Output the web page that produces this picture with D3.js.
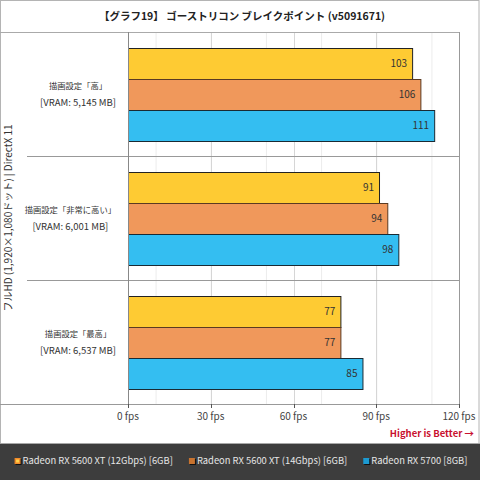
<!DOCTYPE html>
<meta charset="utf-8">
<style>
  body { margin: 0; background: #fff; }
  svg { display: block; font-family: "Noto Sans CJK JP", "Noto Sans", sans-serif; }
  .cat-name { font-size: 8.3px; fill: #333; }
  .cat-vram { font-size: 9.5px; fill: #333; }
  .tick-label { font-size: 10px; fill: #444; }
  .val { font-size: 10px; fill: #333; }
  .legend-text { font-size: 9.4px; fill: #e6e6e6; }
</style>
<body>
<div id="chart"></div>
<script src="https://d3js.org/d3.v7.min.js"></script>
<script>
  // data
  const categories = ["high", "veryHigh", "highest"];
  const categoryNames = ["描画設定「高」", "描画設定「非常に高い」", "描画設定「最高」"];
  const vramLabels = ["[VRAM: 5,145 MB]", "[VRAM: 6,001 MB]", "[VRAM: 6,537 MB]"];
  const seriesNames = [
    "Radeon RX 5600 XT (12Gbps) [6GB]",
    "Radeon RX 5600 XT (14Gbps) [6GB]",
    "Radeon RX 5700 [8GB]"
  ];
  const rx5600xt12 = [103, 91, 77];
  const rx5600xt14 = [106, 94, 77];
  const rx5700 = [111, 98, 85];
  const tickValues = [0, 30, 60, 90, 120];
  const tickLabels = ["0 fps", "30 fps", "60 fps", "90 fps", "120 fps"];

  const width = 480, height = 480;
  const plotLeft = 128, plotRight = 459, plotTop = 32, plotBottom = 404;

  const barFill = ["#fecb33", "#f0985b", "#34bef1"];
  const barStroke = ["#222", "#5a3a22", "#1a2a33"];
  const legendFill = ["#f08a2a", "#c8732f", "#1c9ad2"];

  const seriesValues = [rx5600xt12, rx5600xt14, rx5700];
  const rows = [];
  categories.forEach((c, i) => {
    seriesNames.forEach((s, j) => {
      rows.push({ cat: c, si: j, value: seriesValues[j][i] });
    });
  });

  const svg = d3.select("#chart").append("svg")
    .attr("width", width)
    .attr("height", height);

  const x = d3.scaleLinear().domain([0, 120]).range([plotLeft, plotRight]);
  const y = d3.scaleBand().domain(categories).range([plotTop, plotBottom]);
  const ySub = d3.scaleBand().domain(d3.range(seriesNames.length))
    .range([0, y.bandwidth()]).paddingOuter(0.5).paddingInner(0);

  // outer frame
  svg.append("rect")
    .attr("x", 0.5).attr("y", 0.5)
    .attr("width", width - 1.5).attr("height", 443)
    .attr("fill", "#fff").attr("stroke", "#b4b4b4");

  // title
  svg.append("text")
    .attr("x", 242).attr("y", 20)
    .attr("text-anchor", "middle")
    .style("font-size", "10.5px").style("font-weight", "bold").style("fill", "#222")
    .text("【グラフ19】 ゴーストリコン ブレイクポイント (v5091671)");

  // minor and major gridlines
  svg.append("g").selectAll("line")
    .data(d3.range(10, 120, 20))
    .join("line")
    .attr("x1", d => x(d) + 0.5).attr("x2", d => x(d) + 0.5)
    .attr("y1", plotTop).attr("y2", plotBottom)
    .attr("stroke", "#ececec");

  svg.append("g").selectAll("line")
    .data(tickValues.slice(1, -1))
    .join("line")
    .attr("x1", d => Math.round(x(d)) + 0.5).attr("x2", d => Math.round(x(d)) + 0.5)
    .attr("y1", plotTop).attr("y2", plotBottom)
    .attr("stroke", "#d6d6d6");

  // frame lines of plot
  svg.append("line")
    .attr("x1", 0).attr("x2", plotRight + 0.5)
    .attr("y1", plotTop + 0.5).attr("y2", plotTop + 0.5)
    .attr("stroke", "#aaa");
  svg.append("line")
    .attr("x1", plotRight + 0.5).attr("x2", plotRight + 0.5)
    .attr("y1", plotTop).attr("y2", plotBottom)
    .attr("stroke", "#999");

  // group separators
  svg.append("g").selectAll("line")
    .data(categories.slice(1))
    .join("line")
    .attr("x1", 27).attr("x2", plotRight)
    .attr("y1", d => Math.round(y(d)) + 0.5).attr("y2", d => Math.round(y(d)) + 0.5)
    .attr("stroke", "#999");

  // bars
  svg.append("g").selectAll("rect")
    .data(rows)
    .join("rect")
    .attr("x", x(0) + 0.5)
    .attr("y", d => Math.round(y(d.cat) + ySub(d.si)) + 0.5)
    .attr("width", d => x(d.value) - x(0))
    .attr("height", ySub.bandwidth())
    .attr("fill", d => barFill[d.si])
    .attr("stroke", d => barStroke[d.si])
    .attr("stroke-width", 1);

  // value labels
  svg.append("g").selectAll("text")
    .data(rows)
    .join("text")
    .attr("class", "val")
    .attr("x", d => x(d.value) - 5)
    .attr("y", d => y(d.cat) + ySub(d.si) + ySub.bandwidth() / 2)
    .attr("dy", "0.35em")
    .attr("text-anchor", "end")
    .text(d => d.value);

  // y axis line (0 fps)
  svg.append("line")
    .attr("x1", x(0) + 0.5).attr("x2", x(0) + 0.5)
    .attr("y1", plotTop).attr("y2", plotBottom + 3)
    .attr("stroke", "#888");

  // bottom axis
  svg.append("line")
    .attr("x1", 0).attr("x2", plotRight + 0.5)
    .attr("y1", plotBottom + 0.5).attr("y2", plotBottom + 0.5)
    .attr("stroke", "#999");

  svg.append("g").selectAll("line")
    .data(tickValues)
    .join("line")
    .attr("x1", d => Math.round(x(d)) + 0.5).attr("x2", d => Math.round(x(d)) + 0.5)
    .attr("y1", plotBottom).attr("y2", plotBottom + 4)
    .attr("stroke", "#555");

  svg.append("g").selectAll("text")
    .data(tickValues)
    .join("text")
    .attr("class", "tick-label")
    .attr("x", d => x(d))
    .attr("y", plotBottom + 16)
    .attr("text-anchor", "middle")
    .text((d, i) => tickLabels[i]);

  svg.append("text")
    .attr("x", 474).attr("y", 437)
    .attr("text-anchor", "end")
    .style("font-size", "9.5px").style("font-weight", "bold").style("fill", "#c8102e")
    .text("Higher is Better →");

  // category labels, centred as a block, kept clear of the axis
  const catG = svg.append("g").selectAll("g")
    .data(categories)
    .join("g");
  catG.append("text")
    .attr("class", "cat-name")
    .attr("y", d => y(d) + y.bandwidth() / 2 - 5)
    .text((d, i) => categoryNames[i]);
  catG.append("text")
    .attr("class", "cat-vram")
    .attr("y", d => y(d) + y.bandwidth() / 2 + 12)
    .text((d, i) => vramLabels[i]);
  catG.each(function() {
    const texts = d3.select(this).selectAll("text");
    const maxW = d3.max(texts.nodes(), n => n.getComputedTextLength());
    const shift = Math.min(0, 116 - (80 + maxW / 2));
    texts.attr("x", 80 + shift).attr("text-anchor", "middle");
  });

  // rotated axis title
  svg.append("text")
    .attr("transform", `translate(12, ${(plotTop + plotBottom) / 2}) rotate(-90)`)
    .attr("text-anchor", "middle")
    .style("font-size", "10px").style("fill", "#333")
    .text("フルHD (1,920×1,080ドット) | DirectX 11");

  // legend
  svg.append("rect")
    .attr("x", 0).attr("y", 443)
    .attr("width", width).attr("height", 37)
    .attr("fill", "#3d3d3d");
  svg.append("line")
    .attr("x1", 0).attr("x2", width)
    .attr("y1", 443.5).attr("y2", 443.5)
    .attr("stroke", "#a8a8a8");

  const legend = svg.append("g");
  const items = legend.selectAll("g")
    .data(seriesNames)
    .join("g");
  items.append("rect")
    .attr("x", 1).attr("y", -2)
    .attr("width", 6).attr("height", 6)
    .attr("fill", "#111");
  items.append("rect")
    .attr("x", 0).attr("y", -3)
    .attr("width", 6).attr("height", 6)
    .attr("fill", (d, i) => legendFill[i]);
  items.filter((d, i) => i === 0).append("rect")
    .attr("x", 1.5).attr("y", -1.5)
    .attr("width", 3).attr("height", 3)
    .attr("fill", "#ffd24a");
  items.append("text")
    .attr("class", "legend-text")
    .attr("x", 8).attr("y", 0)
    .attr("dy", "0.35em")
    .text(d => d);

  const widths = [];
  items.each(function() {
    widths.push(d3.select(this).select("text").node().getComputedTextLength() + 8);
  });
  const gap = 16;
  const total = d3.sum(widths) + gap * (widths.length - 1);
  let cursor = 241 - total / 2;
  items.attr("transform", (d, i) => {
    const t = `translate(${cursor}, 461)`;
    cursor += widths[i] + gap;
    return t;
  });
</script>
</body>
</html>
